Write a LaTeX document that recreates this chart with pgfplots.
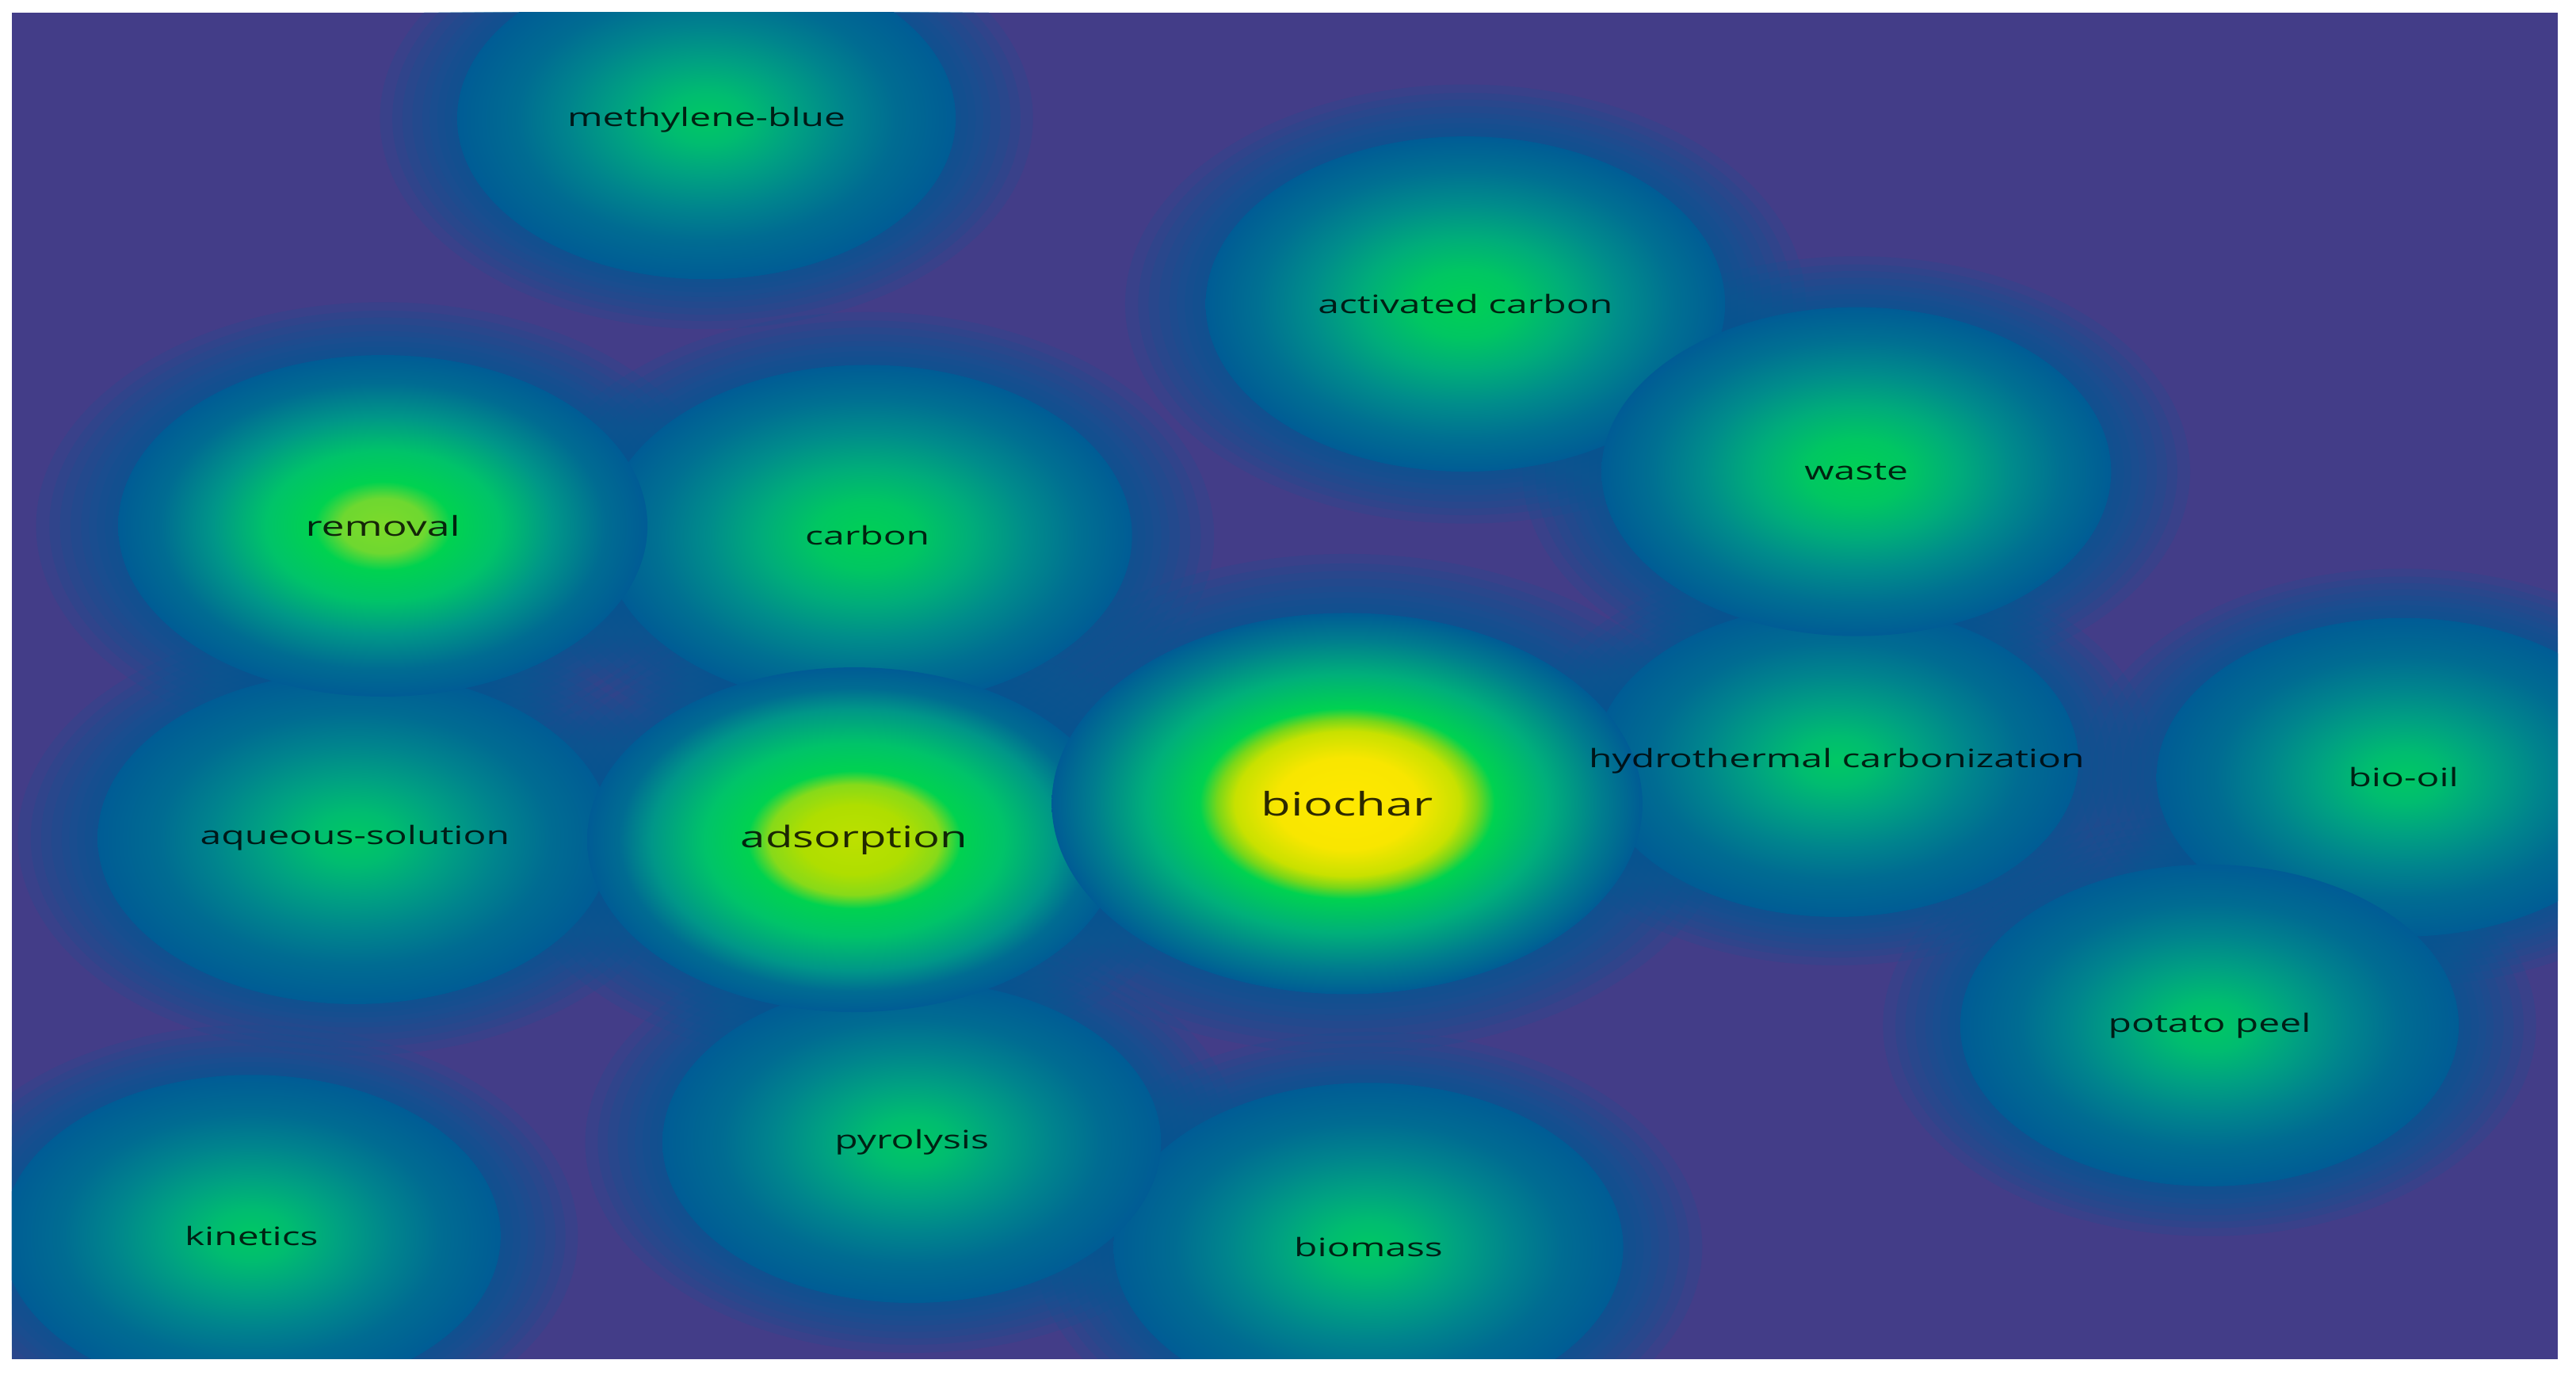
\documentclass[border=0pt]{standalone}
\usepackage{pgfplots}
\pgfplotsset{compat=1.18}
\usepackage{fontspec}
\setmainfont{Open Sans}

\definecolor{bg}{RGB}{67,61,136}
\definecolor{ring}{RGB}{0,92,149}
\definecolor{haloc}{RGB}{8,88,148}
% core colours
\definecolor{yel}{RGB}{255,232,0}
\definecolor{yel2}{RGB}{248,230,0}
\definecolor{yg1}{RGB}{200,225,0}
\definecolor{yg2}{RGB}{120,215,25}
\definecolor{gA}{RGB}{0,210,80}
\definecolor{gB}{RGB}{0,195,105}
\definecolor{gC}{RGB}{0,175,122}
\definecolor{tA}{RGB}{0,150,136}
\definecolor{tB}{RGB}{0,125,142}
\definecolor{tC}{RGB}{0,108,146}
\definecolor{adsA}{RGB}{188,224,0}
\definecolor{adsB}{RGB}{175,222,0}
\definecolor{adsC}{RGB}{135,218,25}
\definecolor{remA}{RGB}{125,218,42}
\definecolor{remB}{RGB}{110,216,48}
\definecolor{nA}{RGB}{0,200,100}
\definecolor{nB}{RGB}{0,188,112}
\definecolor{nC}{RGB}{0,160,130}
\definecolor{nD}{RGB}{0,132,141}
\definecolor{nE}{RGB}{0,108,146}
\definecolor{sA}{RGB}{0,208,85}
\definecolor{sB}{RGB}{0,198,98}
\definecolor{sC}{RGB}{0,172,122}
\definecolor{sD}{RGB}{0,140,139}
\definecolor{sE}{RGB}{0,112,146}

% radial shadings: 25bp = edge of the ellipse
\pgfdeclareradialshading{shNormal}{\pgfpointorigin}{color(0bp)=(nA); color(4bp)=(nB); color(9bp)=(nC); color(14bp)=(nD); color(19bp)=(nE); color(25bp)=(ring); color(50bp)=(ring)}
\pgfdeclareradialshading{shStrong}{\pgfpointorigin}{color(0bp)=(sA); color(5bp)=(sB); color(10bp)=(sC); color(15bp)=(sD); color(20bp)=(sE); color(25bp)=(ring); color(50bp)=(ring)}
\pgfdeclareradialshading{shRemoval}{\pgfpointorigin}{color(0bp)=(remA); color(4bp)=(remB); color(6.5bp)=(gA); color(11bp)=(gB); color(16bp)=(tA); color(21bp)=(tC); color(25bp)=(ring); color(50bp)=(ring)}
\pgfdeclareradialshading{shAds}{\pgfpointorigin}{color(0bp)=(adsA); color(5bp)=(adsB); color(8bp)=(adsC); color(10bp)=(gA); color(14bp)=(gB); color(19bp)=(tA); color(22bp)=(tC); color(25bp)=(ring); color(50bp)=(ring)}
\pgfdeclareradialshading{shBiochar}{\pgfpointorigin}{color(0bp)=(yel); color(6bp)=(yel2); color(9.5bp)=(yg1); color(11bp)=(yg2); color(12.5bp)=(gA); color(17bp)=(gC); color(21.5bp)=(tB); color(25bp)=(ring); color(50bp)=(ring)}

\newcommand\defblob[2]{%
  \pgfdeclareplotmark{#1}{%
    \pgfpathellipse{\pgfpointorigin}{\pgfqpoint{1.55\pgfplotmarksize}{0pt}}{\pgfqpoint{0pt}{\pgfplotmarksize}}%
    \pgfshadepath{#2}{0}%
    \pgfusepath{}%
  }}
\defblob{blobN}{shNormal}
\defblob{blobS}{shStrong}
\defblob{blobR}{shRemoval}
\defblob{blobA}{shAds}
\defblob{blobB}{shBiochar}
% halo: a stack of translucent ellipses a little larger than the core
\newcommand\hell[1]{%
  \pgfpathellipse{\pgfpointorigin}{\pgfpoint{#1*1.55*\pgfplotmarksize}{0pt}}{\pgfpoint{0pt}{#1*\pgfplotmarksize}}%
  \pgfusepath{fill}}
\pgfdeclareplotmark{halo}{%
  \begin{pgfscope}%
  \pgfsetfillcolor{haloc}\pgfsetfillopacity{0.17}%
  \hell{1.02}\hell{1.05}\hell{1.08}\hell{1.11}\hell{1.14}\hell{1.18}\hell{1.22}\hell{1.26}\hell{1.31}%
  \end{pgfscope}%
}

\tikzset{lbl/.style={anchor=center, inner sep=0pt, text=black, text opacity=0.82}}
\newcommand\lab[3]{\node[lbl, font=\fontsize{#1}{#1}\selectfont] at (axis cs:#2) {\scalebox{1.5}[1]{#3}};}

\begin{document}
\begin{tikzpicture}
\begin{axis}[
  scale only axis,
  width=642.7pt, height=339.8pt,
  xmin=7.2, xmax=1557, ymin=7.7, ymax=827,
  y dir=reverse,
  axis lines=box, axis line style={draw=none}, ticks=none,
  axis background/.style={fill=bg},
  clip=true, clip marker paths=true,
]
% halos (same size as the cores; the mark reaches 1.31 x)
\addplot[only marks, mark=halo, mark size=40.6pt] coordinates {(430,72)};
\addplot[only marks, mark=halo, mark size=40.6pt] coordinates {(153,752)};
\addplot[only marks, mark=halo, mark size=40.2pt] coordinates {(1463,473)};
\addplot[only marks, mark=halo, mark size=40.6pt] coordinates {(1345,624)};
\addplot[only marks, mark=halo, mark size=41.5pt] coordinates {(833,759)};
\addplot[only marks, mark=halo, mark size=40.6pt] coordinates {(555,695)};
\addplot[only marks, mark=halo, mark size=41.9pt] coordinates {(216,510)};
\addplot[only marks, mark=halo, mark size=39.4pt] coordinates {(1118,463)};
\addplot[only marks, mark=halo, mark size=42.3pt] coordinates {(892,185)};
\addplot[only marks, mark=halo, mark size=41.5pt] coordinates {(1130,287)};
\addplot[only marks, mark=halo, mark size=43.1pt] coordinates {(528,326)};
\addplot[only marks, mark=halo, mark size=43.1pt] coordinates {(233,320)};
\addplot[only marks, mark=halo, mark size=43.5pt] coordinates {(520,511)};
\addplot[only marks, mark=halo, mark size=48.1pt] coordinates {(820,489)};
% cores
\addplot[only marks, mark=blobN, mark size=40.6pt] coordinates {(430,72)};   % methylene-blue
\addplot[only marks, mark=blobN, mark size=40.6pt] coordinates {(153,752)};  % kinetics
\addplot[only marks, mark=blobN, mark size=40.2pt] coordinates {(1463,473)}; % bio-oil
\addplot[only marks, mark=blobN, mark size=40.6pt] coordinates {(1345,624)}; % potato peel
\addplot[only marks, mark=blobN, mark size=41.5pt] coordinates {(833,759)};  % biomass
\addplot[only marks, mark=blobN, mark size=40.6pt] coordinates {(555,695)};  % pyrolysis
\addplot[only marks, mark=blobN, mark size=41.9pt] coordinates {(216,510)};  % aqueous-solution
\addplot[only marks, mark=blobN, mark size=39.4pt] coordinates {(1118,463)}; % hydrothermal carbonization
\addplot[only marks, mark=blobS, mark size=42.3pt] coordinates {(892,185)};  % activated carbon
\addplot[only marks, mark=blobS, mark size=41.5pt] coordinates {(1130,287)}; % waste
\addplot[only marks, mark=blobS, mark size=43.1pt] coordinates {(528,326)};  % carbon
\addplot[only marks, mark=blobR, mark size=43.1pt] coordinates {(233,320)};  % removal
\addplot[only marks, mark=blobA, mark size=43.5pt] coordinates {(520,511)};  % adsorption
\addplot[only marks, mark=blobB, mark size=48.1pt] coordinates {(820,489)};  % biochar
% labels
\lab{6.4}{430,73}{methylene-blue}
\lab{6.4}{892,185}{activated carbon}
\lab{6.4}{1130,287}{waste}
\lab{6.9}{233,320}{removal}
\lab{6.4}{528,326}{carbon}
\lab{6.4}{216,510}{aqueous-solution}
\lab{7.5}{520,511}{adsorption}
\lab{8.2}{820,489}{biochar}
\lab{6.4}{1118,463}{hydrothermal carbonization}
\lab{6.4}{1463,473}{bio-oil}
\lab{6.4}{1345,624}{potato peel}
\lab{6.4}{555,695}{pyrolysis}
\lab{6.4}{153,752}{kinetics}
\lab{6.4}{833,759}{biomass}
\end{axis}
\path (current axis.south west) ++(-3.0pt,-5.0pt);
\path (current axis.north east) ++(4.6pt,3.2pt);
\end{tikzpicture}
\end{document}
